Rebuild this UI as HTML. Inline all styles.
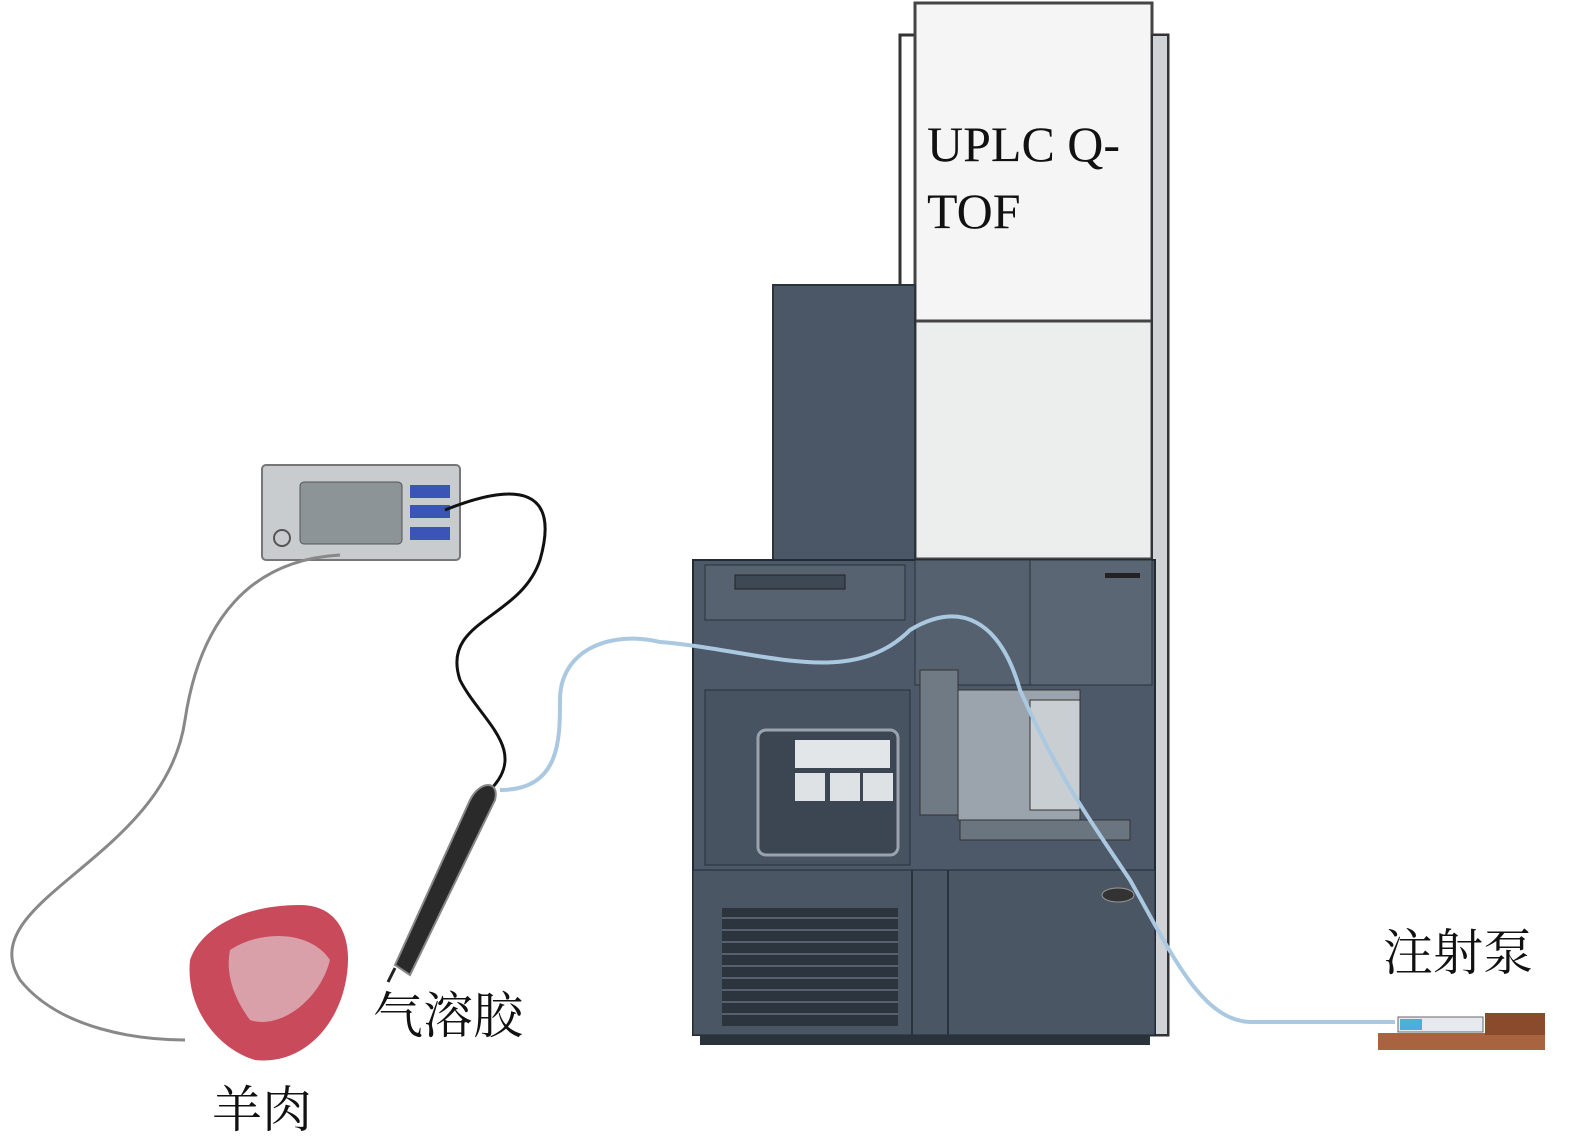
<!DOCTYPE html>
<html><head><meta charset="utf-8"><style>
html,body{margin:0;padding:0;background:#fff;width:1575px;height:1146px;overflow:hidden}
svg{display:block}
text{font-family:"Liberation Serif","Noto Serif CJK SC",serif;fill:#111}
</style></head><body>
<svg width="1575" height="1146" viewBox="0 0 1575 1146">
<rect x="900" y="35" width="268" height="1000" fill="none" stroke="#333" stroke-width="3"/>
<rect x="915" y="3" width="237" height="318" fill="#f4f5f4" stroke="#444" stroke-width="3"/>
<rect x="915" y="321" width="237" height="238" fill="#eceeed" stroke="#444" stroke-width="3"/>
<rect x="1152" y="35" width="16" height="1000" fill="#cfd3d6" stroke="#333" stroke-width="2"/>
<rect x="773" y="285" width="142" height="275" fill="#4b5766" stroke="#2a323b" stroke-width="2"/>
<rect x="693" y="560" width="462" height="475" fill="#4d5968" stroke="#222a33" stroke-width="2"/>
<rect x="705" y="565" width="200" height="55" fill="#56626f" stroke="#2a323b"/>
<rect x="735" y="575" width="110" height="14" fill="#3e4855" stroke="#222"/>
<rect x="915" y="560" width="115" height="125" fill="#55616e" stroke="#2a323b"/>
<rect x="1030" y="560" width="122" height="125" fill="#5a6673" stroke="#2a323b"/>
<rect x="1105" y="573" width="35" height="5" fill="#222"/>
<rect x="705" y="690" width="205" height="175" fill="#475361" stroke="#2a323b"/>
<rect x="758" y="730" width="140" height="125" rx="8" fill="#3c4652" stroke="#9aa3ad" stroke-width="3"/>
<rect x="795" y="740" width="95" height="28" fill="#e3e6e8"/>
<rect x="795" y="773" width="30" height="28" fill="#dfe2e4"/><rect x="830" y="773" width="30" height="28" fill="#dfe2e4"/><rect x="863" y="773" width="30" height="28" fill="#dfe2e4"/>
<rect x="920" y="670" width="38" height="145" fill="#6f7a85" stroke="#333"/>
<rect x="958" y="690" width="122" height="130" fill="#9ba4ad" stroke="#333"/>
<rect x="1030" y="700" width="50" height="110" fill="#c9ced3" stroke="#333"/>
<rect x="960" y="820" width="170" height="20" fill="#6a7580" stroke="#333"/>
<rect x="693" y="870" width="462" height="165" fill="#4a5664" stroke="#222a33"/>
<rect x="722" y="908" width="176" height="118" fill="#2c343e"/>
<g stroke="#56616d" stroke-width="2">
<line x1="722" y1="918" x2="898" y2="918"/><line x1="722" y1="930" x2="898" y2="930"/><line x1="722" y1="942" x2="898" y2="942"/><line x1="722" y1="954" x2="898" y2="954"/><line x1="722" y1="966" x2="898" y2="966"/><line x1="722" y1="978" x2="898" y2="978"/><line x1="722" y1="990" x2="898" y2="990"/><line x1="722" y1="1002" x2="898" y2="1002"/><line x1="722" y1="1014" x2="898" y2="1014"/>
</g>
<line x1="912" y1="870" x2="912" y2="1035" stroke="#2a323b" stroke-width="2"/>
<line x1="948" y1="870" x2="948" y2="1035" stroke="#2a323b" stroke-width="2"/>
<ellipse cx="1118" cy="895" rx="16" ry="7" fill="#333" stroke="#999"/>
<rect x="700" y="1035" width="450" height="10" fill="#2a323b"/>
<rect x="262" y="465" width="198" height="95" rx="4" fill="#c8ccce" stroke="#777" stroke-width="2"/>
<rect x="300" y="482" width="102" height="62" rx="4" fill="#8c9498" stroke="#555"/>
<circle cx="282" cy="538" r="8" fill="none" stroke="#555" stroke-width="2"/>
<rect x="410" y="485" width="40" height="13" fill="#3a55b5"/><rect x="410" y="505" width="40" height="13" fill="#3a55b5"/><rect x="410" y="527" width="40" height="13" fill="#3a55b5"/>
<path d="M340 555 C250 560 200 620 185 720 C165 860 -30 900 20 980 C60 1030 140 1040 185 1040" fill="none" stroke="#888" stroke-width="3"/>
<path d="M445 510 C520 480 560 490 540 560 C520 620 440 620 460 680 C480 720 530 750 490 790" fill="none" stroke="#111" stroke-width="3"/>
<path d="M500 790 C560 790 560 740 560 700 C560 650 610 630 660 642 C760 650 850 690 910 630 C960 600 1000 620 1020 690 C1060 780 1090 820 1130 880 C1170 950 1200 1020 1250 1022 L1395 1022" fill="none" stroke="#aac8e0" stroke-width="4"/>
<path d="M395 965 L470 800 C480 780 500 780 495 800 L410 975 Z" fill="#2a2a2a" stroke="#888" stroke-width="2"/>
<line x1="395" y1="968" x2="388" y2="982" stroke="#222" stroke-width="3"/>
<path d="M190 960 C200 930 240 905 300 905 C340 905 355 940 345 985 C335 1030 300 1065 255 1060 C220 1050 185 1010 190 960 Z" fill="#c94a5a"/>
<path d="M230 950 C260 930 310 930 330 960 C320 1000 280 1030 250 1020 C235 1000 225 975 230 950 Z" fill="#d9a0aa"/>
<rect x="1378" y="1033" width="167" height="17" fill="#a8643e"/>
<rect x="1485" y="1013" width="60" height="22" fill="#8a4b2d"/>
<rect x="1398" y="1017" width="85" height="15" fill="#e6eaee" stroke="#666"/>
<rect x="1400" y="1019" width="22" height="11" fill="#4ab0d8"/>
<text x="927" y="161" font-size="50">UPLC Q-</text>
<text x="927" y="228" font-size="50">TOF</text>
<text x="1383" y="970" font-size="50">注射泵</text>
<text x="373" y="1033" font-size="50">气溶胶</text>
<text x="212" y="1127" font-size="50">羊肉</text>
</svg>
</body></html>
